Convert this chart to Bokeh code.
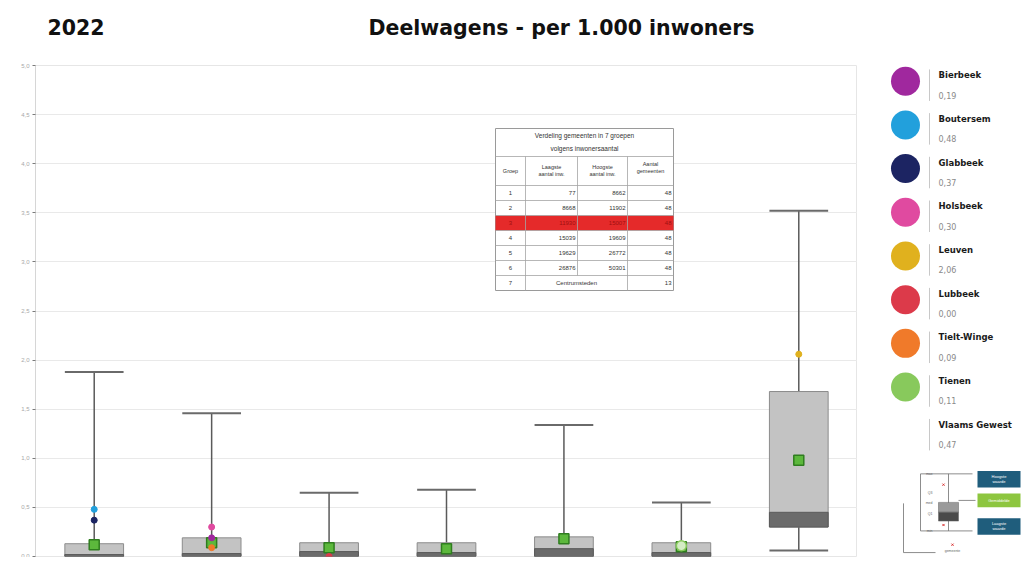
from bokeh.plotting import figure
from bokeh.layouts import column, row
from bokeh.models import Range1d, FixedTicker
from bokeh.core.properties import value
from bokeh.embed import file_html
from bokeh.resources import INLINE

# ---------------- data ----------------
year = "2022"
chart_title = "Deelwagens - per 1.000 inwoners"
groups = ["1", "2", "3", "4", "5", "6", "7"]
q1 = [0.00, 0.00, 0.00, 0.00, 0.00, 0.00, 0.30]
median = [0.02, 0.03, 0.05, 0.04, 0.08, 0.04, 0.45]
q3 = [0.13, 0.19, 0.14, 0.14, 0.20, 0.14, 1.68]
whisker_low = [0.00, 0.00, 0.00, 0.00, 0.00, 0.00, 0.06]
whisker_high = [1.88, 1.46, 0.65, 0.68, 1.34, 0.55, 3.52]
group_mean = [0.12, 0.14, 0.09, 0.08, 0.18, 0.10, 0.98]

munis = ["Bierbeek", "Boutersem", "Glabbeek", "Holsbeek", "Leuven", "Lubbeek", "Tielt-Winge", "Tienen"]
muni_values = [0.19, 0.48, 0.37, 0.30, 2.06, 0.00, 0.09, 0.11]
muni_group = ["2", "1", "1", "2", "7", "3", "2", "6"]
muni_colors = ["#a0289e", "#22a0dc", "#1c2462", "#e04aa0", "#e0b11e", "#dc3a4a", "#f07a2a", "#88c95c"]
region_name = "Vlaams Gewest"
region_value = 0.47

y_ticks = [0, 0.5, 1, 1.5, 2, 2.5, 3, 3.5, 4, 4.5, 5]

table_title = ["Verdeling gemeenten in 7 groepen", "volgens inwonersaantal"]
table_header = ["Groep", "Laagste\naantal inw.", "Hoogste\naantal inw.", "Aantal\ngemeenten"]
table_groups = ["1", "2", "3", "4", "5", "6", "7"]
table_low = ["77", "8668", "11930", "15039", "19629", "26876", ""]
table_high = ["8662", "11902", "15007", "19609", "26772", "50301", ""]
table_count = ["48", "48", "48", "48", "48", "48", "13"]
table_centrum = "Centrumsteden"
highlight_group = "3"

def nl(v, d=2):
    return f"{v:.{d}f}".replace(".", ",")

FONT = value("DejaVu Sans")
TF = value("Liberation Sans")

# ---------------- top title strip ----------------
top = figure(width=1022, height=58, x_range=Range1d(0, 1022), y_range=Range1d(58, 0),
             output_backend="svg", toolbar_location=None, min_border=0)
top.axis.visible = False
top.grid.visible = False
top.outline_line_color = None
top.text(x=[47], y=[26], text=[year], text_font=FONT, text_font_style="bold",
         text_font_size="20.5px", text_align="left", text_baseline="middle", text_color="#111111")
top.text(x=[561], y=[27], text=[chart_title], text_font=FONT, text_font_style="bold",
         text_font_size="20.5px", text_align="center", text_baseline="middle", text_color="#111111")

# ---------------- main box plot ----------------
xs = [groups.index(g) + 1 for g in groups]
p = figure(width=857, height=499, x_range=Range1d(0.5, 7.5), y_range=Range1d(0, 5),
           output_backend="svg", toolbar_location=None,
           min_border_left=35, min_border_right=0, min_border_top=7, min_border_bottom=1)
p.xaxis.visible = False
p.xgrid.visible = False
p.yaxis.ticker = FixedTicker(ticks=y_ticks)
p.ygrid.ticker = FixedTicker(ticks=y_ticks)
p.ygrid.grid_line_color = "#e9e9e9"
p.yaxis.major_label_overrides = {t: nl(t, 1) for t in y_ticks}
p.yaxis.major_label_text_font_size = "6px"
p.yaxis.major_label_text_color = "#a8a8a8"
p.yaxis.axis_line_color = "#d6d6d6"
p.yaxis.major_tick_line_color = "#7a7a7a"
p.yaxis.major_tick_out = 3
p.yaxis.major_tick_in = 0
p.yaxis.minor_tick_line_color = None
p.yaxis.major_label_standoff = 3
p.outline_line_color = "#e6e6e6"

# whiskers
p.segment(x0=xs, y0=q3, x1=xs, y1=whisker_high, line_color="#5a5a5a", line_width=1.5)
p.segment(x0=xs, y0=whisker_low, x1=xs, y1=q1, line_color="#5a5a5a", line_width=1.5)
p.segment(x0=[x - 0.25 for x in xs], y0=whisker_high, x1=[x + 0.25 for x in xs], y1=whisker_high,
          line_color="#6a6a6a", line_width=2)
p.segment(x0=[x - 0.25 for x in xs], y0=whisker_low, x1=[x + 0.25 for x in xs], y1=whisker_low,
          line_color="#6a6a6a", line_width=2)
# boxes
p.vbar(x=xs, bottom=q1, top=q3, width=0.5, fill_color="#c3c3c3", line_color="#8c8c8c", line_width=1)
p.vbar(x=xs, bottom=q1, top=median, width=0.5, fill_color="#6b6b6b", line_color="#5a5a5a", line_width=1)
# means
p.scatter(x=xs, y=group_mean, marker="square", size=10, fill_color="#5cb83c",
          line_color="#2f7d1f", line_width=1.5)
# municipalities
mx = [groups.index(g) + 1 for g in muni_group]
p.scatter(x=mx[:-1], y=muni_values[:-1], size=6, fill_color=muni_colors[:-1], line_color=muni_colors[:-1])
p.scatter(x=mx[-1:], y=muni_values[-1:], size=10, fill_color="#d4ecc4", line_color=muni_colors[-1], line_width=1.5)

# ---- table (page pixel coordinates through extra ranges) ----
p.extra_x_ranges = {"px": Range1d(35, 857)}
p.extra_y_ranges = {"px": Range1d(556, 65)}
KW = dict(x_range_name="px", y_range_name="px")
cols = [495, 525, 577, 627, 673]
t_top, t_head, t_rows = 128, 156, 185
rh = 15
nrows = len(table_groups)
t_bot = t_rows + rh * nrows
p.quad(left=[cols[0]], right=[cols[-1]], top=[t_top], bottom=[t_bot], fill_color="white",
       line_color="#9a9a9a", line_width=1, **KW)
hi = table_groups.index(highlight_group)
p.quad(left=[cols[0]], right=[cols[-1]], top=[t_rows + rh * hi], bottom=[t_rows + rh * (hi + 1)],
       fill_color="#e52a2a", line_color=None, **KW)
hy = [t_head, t_rows] + [t_rows + rh * i for i in range(1, nrows)]
p.segment(x0=[cols[0]] * len(hy), x1=[cols[-1]] * len(hy), y0=hy, y1=hy, line_color="#a5a5a5", line_width=0.8, **KW)
p.segment(x0=[cols[1], cols[3]], x1=[cols[1], cols[3]], y0=[t_head] * 2, y1=[t_bot] * 2,
          line_color="#a5a5a5", line_width=0.8, **KW)
p.segment(x0=[cols[2]], x1=[cols[2]], y0=[t_head], y1=[t_bot - rh], line_color="#a5a5a5", line_width=0.8, **KW)
cx = (cols[0] + cols[-1]) / 2
p.text(x=[cx, cx], y=[135, 148], text=table_title, text_font=TF, text_font_size="6.5px",
       text_align="center", text_baseline="middle", text_color="#333333", **KW)
hcx = [(cols[i] + cols[i + 1]) / 2 for i in range(4)]
p.text(x=hcx, y=[170, 170, 170, 167], text=table_header, text_font=TF, text_font_size="5.5px",
       text_align="center", text_baseline="middle", text_color="#333333", text_line_height=1.1, **KW)
ry = [t_rows + rh * i + rh / 2 for i in range(nrows)]
tcol = ["#a01010" if g == highlight_group else "#333333" for g in table_groups]
p.text(x=[hcx[0]] * nrows, y=ry, text=table_groups, text_font=TF, text_font_size="6px",
       text_align="center", text_baseline="middle", text_color=tcol, **KW)
for ci, vals_ in ((1, table_low), (2, table_high), (3, table_count)):
    p.text(x=[cols[ci + 1] - 2] * nrows, y=ry, text=vals_, text_font=TF, text_font_size="6px",
           text_align="right", text_baseline="middle", text_color=tcol, **KW)
p.text(x=[(cols[1] + cols[3]) / 2], y=[ry[-1]], text=[table_centrum], text_font=TF, text_font_size="6px",
       text_align="center", text_baseline="middle", text_color="#333333", **KW)

# ---------------- side legend ----------------
s = figure(width=165, height=499, x_range=Range1d(857, 1022), y_range=Range1d(557, 58),
           output_backend="svg", toolbar_location=None, min_border=0)
s.axis.visible = False
s.grid.visible = False
s.outline_line_color = None
cy = [74 + 44.4 * i for i in range(len(munis) + 1)]
s.scatter(x=[905] * len(munis), y=cy[:len(munis)], size=29, fill_color=muni_colors, line_color=None)
names = munis + [region_name]
vals = [nl(v) for v in muni_values + [region_value]]
s.segment(x0=[929] * len(cy), x1=[929] * len(cy), y0=[c - 12 for c in cy], y1=[c + 20 for c in cy],
          line_color="#c8c8c8", line_width=1)
s.text(x=[938] * len(cy), y=[c - 6 for c in cy], text=names, text_font=FONT, text_font_style="bold",
       text_font_size="8.5px", text_align="left", text_baseline="middle", text_color="#1a1a1a")
s.text(x=[938] * len(cy), y=[c + 14 for c in cy], text=vals, text_font=FONT,
       text_font_size="8px", text_align="left", text_baseline="middle", text_color="#8a8a8a")

# mini explanation diagram
s.quad(left=[977, 977, 977], right=[1020, 1020, 1020], top=[470, 493, 518], bottom=[487, 507, 535],
       fill_color=["#1f5d7c", "#8dc63f", "#1f5d7c"], line_color=None)
s.text(x=[998.5, 998.5, 998.5], y=[478.5, 500, 526.5],
       text=["Hoogste\nwaarde", "Gemiddelde", "Laagste\nwaarde"], text_font=TF, text_font_size="4px",
       text_align="center", text_baseline="middle", text_color="white", text_line_height=1.0)
s.segment(x0=[920, 920, 948, 948, 920, 903, 903], x1=[972, 972, 948, 948, 920, 903, 935],
          y0=[473, 531, 473, 520, 473, 503, 553], y1=[473, 531, 503, 531, 531, 553, 553],
          line_color="#707070", line_width=0.8)
s.quad(left=[938], right=[958], top=[502], bottom=[512], fill_color="#9a9a9a", line_color="#606060", line_width=0.5)
s.quad(left=[938], right=[958], top=[512], bottom=[521], fill_color="#4a4a4a", line_color="#606060", line_width=0.5)
s.segment(x0=[958], x1=[975], y0=[500], y1=[500], line_color="#707070", line_width=0.8)
s.scatter(x=[943, 943, 952], y=[484, 525, 545], size=3, marker="x", line_color="#d83030")
s.text(x=[932, 932, 932, 932, 932], y=[473, 492, 503, 514, 531],
       text=["max", "Q3", "med", "Q1", "min"], text_font=TF, text_font_size="3.5px",
       text_align="right", text_baseline="middle", text_color="#666666")
s.text(x=[952], y=[551], text=["gemeente"], text_font=TF, text_font_size="3.5px",
       text_align="center", text_baseline="middle", text_color="#666666")

layout = column(top, row(p, s))
open("out.html", "w").write(file_html(layout, INLINE))
